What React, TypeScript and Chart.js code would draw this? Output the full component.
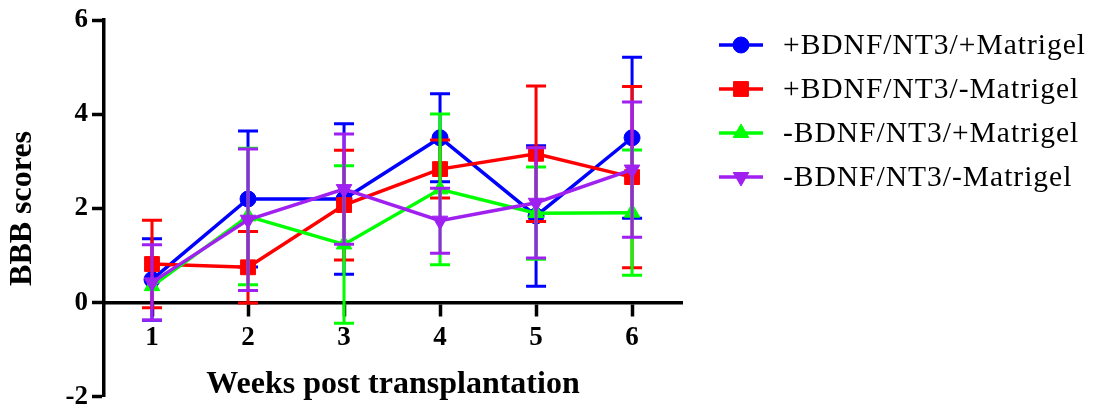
import React, { useEffect, useRef } from 'react';
import { Chart, registerables, PointElement } from 'chart.js';

Chart.register(...registerables);

// ---- data ----
const weeks = [1, 2, 3, 4, 5, 6];
const yTickValues = [-2, 0, 2, 4, 6];
const seriesLabels = [
  '+BDNF/NT3/+Matrigel',
  '+BDNF/NT3/-Matrigel',
  '-BDNF/NT3/+Matrigel',
  '-BDNF/NT3/-Matrigel',
];
const bdnfMatrigelMean = [0.49, 2.2, 2.2, 3.5, 1.84, 3.5];
const bdnfMatrigelErr = [0.865, 1.445, 1.6, 0.935, 1.49, 1.71];
const bdnfOnlyMean = [0.82, 0.75, 2.07, 2.835, 3.16, 2.665];
const bdnfOnlyErr = [0.93, 0.76, 1.165, 0.615, 1.44, 1.925];
const matrigelOnlyMean = [0.35, 1.83, 1.235, 2.405, 1.9, 1.91];
const matrigelOnlyErr = [0, 1.45, 1.67, 1.6, 0.98, 1.33];
const neitherMean = [0.43, 1.76, 2.41, 1.74, 2.12, 2.825];
const neitherErr = [0.8, 1.5, 1.17, 0.69, 1.17, 1.435];

const seriesColors = ['#0000FF', '#FF0000', '#00FF00', '#A020F0'];
const meansList = [bdnfMatrigelMean, bdnfOnlyMean, matrigelOnlyMean, neitherMean];
const errList = [bdnfMatrigelErr, bdnfOnlyErr, matrigelOnlyErr, neitherErr];

const SERIF = "'Liberation Serif', 'Times New Roman', Times, serif";

const errorBarPlugin = {
  id: 'errorBars',
  beforeDatasetDraw(chart: any, args: any) {
    const i = args.index;
    const errs = errList[i];
    const means = meansList[i];
    const ys = chart.scales.y;
    const ctx = chart.ctx;
    ctx.save();
    ctx.strokeStyle = seriesColors[i];
    ctx.lineWidth = 3;
    ctx.lineCap = 'butt';
    args.meta.data.forEach((pt: any, j: number) => {
      const e = errs[j];
      if (!e) return;
      const top = ys.getPixelForValue(means[j] + e);
      const bot = ys.getPixelForValue(means[j] - e);
      ctx.beginPath();
      ctx.moveTo(pt.x, top);
      ctx.lineTo(pt.x, bot);
      ctx.moveTo(pt.x - 10, top);
      ctx.lineTo(pt.x + 10, top);
      ctx.moveTo(pt.x - 10, bot);
      ctx.lineTo(pt.x + 10, bot);
      ctx.stroke();
    });
    ctx.restore();
  },
};

const sideLegendPlugin = {
  id: 'sideLegend',
  afterDraw(chart: any) {
    const ctx = chart.ctx;
    const a = chart.chartArea;
    const bigArea = { left: -9999, top: -9999, right: 99999, bottom: 99999 };
    chart.data.datasets.forEach((ds: any, i: number) => {
      const y = a.top + 25 + 44 * i;
      const x0 = a.right + 37;
      const x1 = a.right + 81;
      ctx.save();
      ctx.strokeStyle = ds.borderColor;
      ctx.lineWidth = 3.5;
      ctx.beginPath();
      ctx.moveTo(x0, y);
      ctx.lineTo(x1, y);
      ctx.stroke();
      const meta = chart.getDatasetMeta(i);
      const opts = meta.data[0].options;
      const p: any = new (PointElement as any)({ x: (x0 + x1) / 2, y, options: opts });
      p.draw(ctx, bigArea);
      ctx.fillStyle = '#000';
      ctx.font = `29.5px ${SERIF}`;
      try { (ctx as any).letterSpacing = '1px'; } catch (e) { /* ignore */ }
      ctx.textBaseline = 'middle';
      ctx.textAlign = 'left';
      ctx.fillText(ds.label, a.right + 101, y + 1);
      ctx.restore();
    });
  },
};

export default function App() {
  const ref = useRef<HTMLCanvasElement>(null);

  useEffect(() => {
    document.body.style.margin = '0';
    const pointStyles = ['circle', 'rect', 'triangle', 'triangle'];
    const rotations = [0, 0, 0, 180];
    const radii = [8, 10.5, 9, 9];
    const orders = [4, 3, 2, 1];
    const datasets = seriesLabels.map((label, i) => ({
      label,
      data: weeks.map((w, j) => ({ x: w, y: meansList[i][j] })),
      borderColor: seriesColors[i],
      backgroundColor: seriesColors[i],
      borderWidth: 3.5,
      pointStyle: pointStyles[i],
      pointRotation: rotations[i],
      pointRadius: radii[i],
      pointBorderWidth: 1,
      pointBorderColor: seriesColors[i],
      pointBackgroundColor: seriesColors[i],
      tension: 0,
      order: orders[i],
      clip: false as any,
    }));

    const chart = new Chart(ref.current as HTMLCanvasElement, {
      type: 'line',
      data: { datasets } as any,
      options: {
        responsive: false,
        animation: false,
        devicePixelRatio: 1,
        layout: { padding: { left: 0, top: 20, right: 417, bottom: 13 } },
        plugins: {
          legend: { display: false },
          tooltip: { enabled: false },
        },
        scales: {
          x: {
            type: 'linear',
            min: 0.5,
            max: 6.52,
            position: { y: 0 } as any,
            afterBuildTicks: (scale: any) => {
              scale.ticks = weeks.map((w) => ({ value: w }));
            },
            ticks: {
              includeBounds: false,
              callback: (v: any) => String(v),
              color: '#000',
              padding: 7,
              font: { family: SERIF, size: 27, weight: 'bold', lineHeight: 1.2 },
            },
            grid: {
              drawOnChartArea: false,
              drawTicks: true,
              tickLength: 12,
              tickWidth: 3.5,
              color: '#000',
              tickColor: '#000',
            },
            border: { display: true, color: '#000', width: 3.5 },
            title: {
              display: true,
              text: 'Weeks post transplantation',
              color: '#000',
              font: { family: SERIF, size: 32, weight: 'bold' },
              padding: { top: 4, bottom: 0 },
            },
          },
          y: {
            type: 'linear',
            position: 'left',
            min: -2,
            max: 6,
            afterFit: (scale: any) => {
              scale.width = 104;
            },
            afterBuildTicks: (scale: any) => {
              scale.ticks = yTickValues.map((v) => ({ value: v }));
            },
            ticks: {
              callback: (v: any) => String(v),
              color: '#000',
              padding: 4,
              font: { family: SERIF, size: 27, weight: 'bold', lineHeight: 0.9 },
            },
            grid: {
              drawOnChartArea: false,
              drawTicks: true,
              tickLength: 12,
              tickWidth: 3.5,
              color: '#000',
              tickColor: '#000',
            },
            border: { display: true, color: '#000', width: 3.5 },
            title: {
              display: true,
              text: 'BBB scores',
              color: '#000',
              font: { family: SERIF, size: 32, weight: 'bold' },
              padding: { top: 4, bottom: 0 },
            },
          },
        },
      } as any,
      plugins: [errorBarPlugin, sideLegendPlugin],
    });
    return () => chart.destroy();
  }, []);

  return (
    <div style={{ width: 1099, height: 413, background: '#fff' }}>
      <canvas ref={ref} width={1099} height={413} style={{ display: 'block' }} />
    </div>
  );
}
